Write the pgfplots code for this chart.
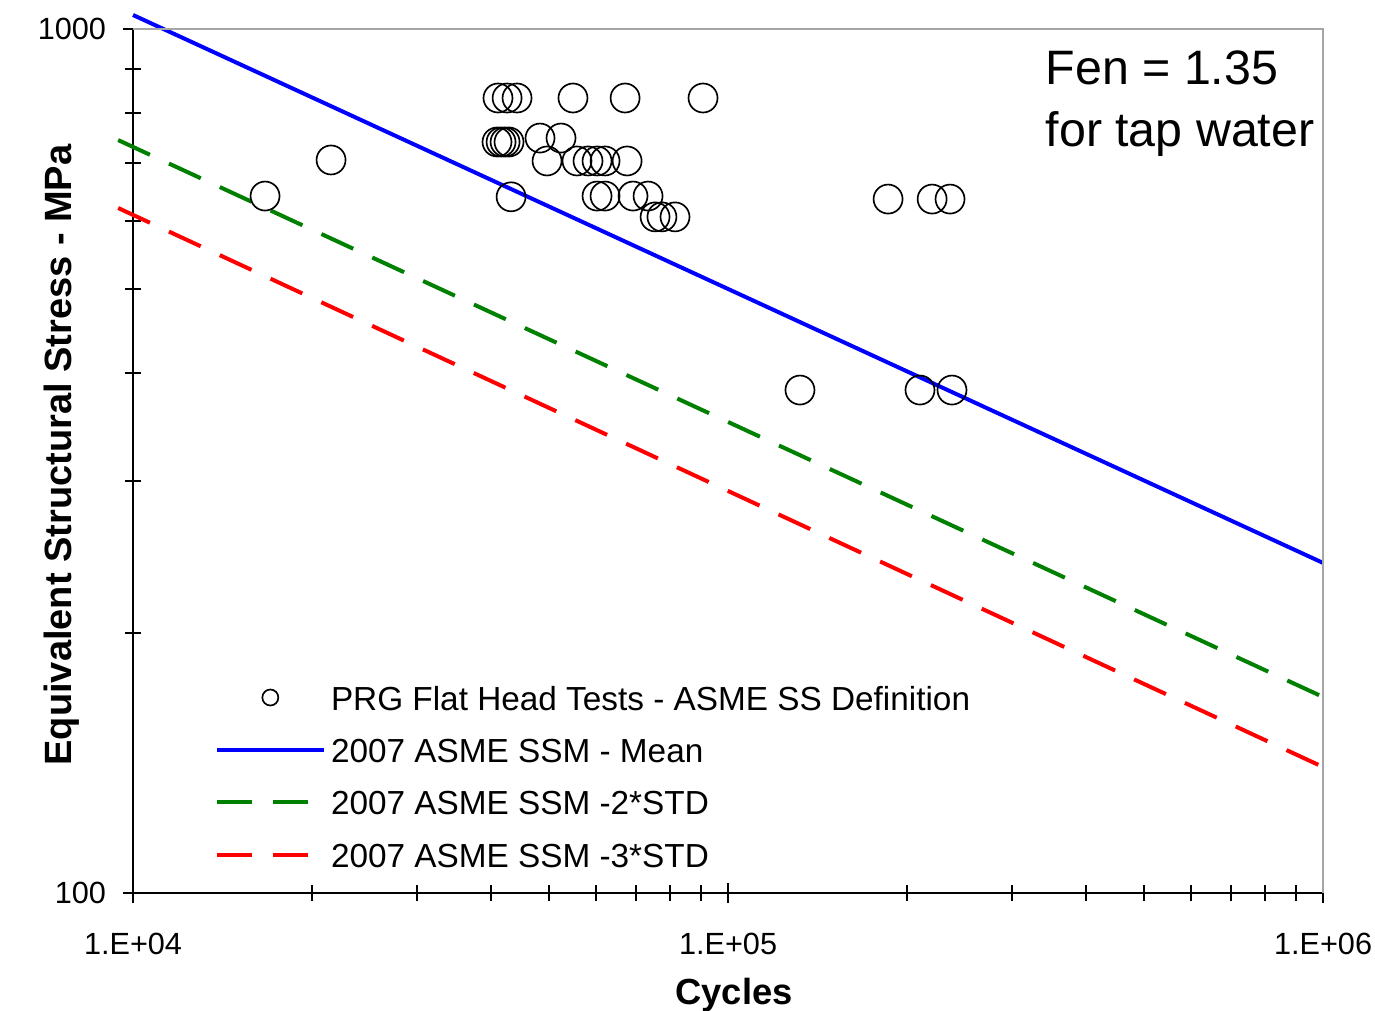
\documentclass[border=0pt]{standalone}
\usepackage{fontspec}
\setmainfont{Liberation Sans}
\usepackage{pgfplots}
\pgfplotsset{compat=1.18}
\definecolor{mblue}{RGB}{0,0,255}
\definecolor{mgreen}{RGB}{0,128,0}
\definecolor{mred}{RGB}{255,0,0}
\begin{document}
\begin{tikzpicture}
\useasboundingbox (-39.9pt,-35.1pt) rectangle (372.6pt,267.9pt);
\begin{axis}[
  at={(0pt,0pt)}, anchor=south west,
  scale only axis, width=357pt, height=259.2pt,
  xmode=log, ymode=log,
  xmin=1e4, xmax=1e6, ymin=100, ymax=1000,
  axis x line*=bottom, axis y line*=left,
  axis line style={-, black, line width=0.8pt},
  xtick={1e4,1e5,1e6}, xticklabels={1.E+04,1.E+05,1.E+06},
  ytick={100,1000}, yticklabels={100,1000},
  minor xtick={2e4,3e4,4e4,5e4,6e4,7e4,8e4,9e4,2e5,3e5,4e5,5e5,6e5,7e5,8e5,9e5},
  minor ytick={200,300,400,500,600,700,800,900},
  tick align=center, major tick length=6pt, minor tick length=4.8pt,
  tick style={black, line width=0.6pt},
  ticklabel style={font=\fontsize{9.2}{10}\selectfont},
  xticklabel style={yshift=-5.6pt},
  yticklabel style={xshift=-1.6pt},
  /pgf/number format/assume math mode=true,
  clip=false,
  xlabel={Cycles}, ylabel={Equivalent Structural Stress - MPa},
  xlabel style={at={(axis description cs:0.505,-0.118)}, anchor=center, font=\bfseries\fontsize{10.9}{12}\selectfont},
  ylabel style={at={(axis description cs:-0.0597,0.507)}, anchor=center, font=\bfseries\fontsize{11.4}{13}\selectfont},
  legend cell align=left,
  legend style={at={(axis description cs:0.0689,0.2407)}, anchor=north west, draw=none, fill=none,
    inner sep=0pt, outer sep=0pt, font=\fontsize{10}{12}\selectfont, row sep=8.2pt, column sep=1.6pt,
    nodes={inner sep=0pt, text height=7.5pt, text depth=0pt}},
  legend image code/.code={\draw[mark repeat=2,mark phase=2,#1] plot coordinates {(0pt,0pt) (16pt,0pt) (32pt,0pt)};},
]
\addlegendimage{only marks, mark=o, mark size=2.4pt, black, line width=0.5pt}
\addlegendentry{PRG Flat Head Tests - ASME SS Definition}
\addplot[only marks, mark=o, mark size=4.35pt, black, line width=0.5pt, forget plot] coordinates {
(16670,640.7) (21520,705.4)
(41060,832.0) (42530,832.0) (44200,832.0) (54880,832.0) (67140,832.0) (90780,832.0)
(40900,740.0) (41550,740.0) (42200,740.0) (42850,740.0)
(48310,747.9) (52400,747.9)
(49640,703.5) (55740,703.5) (58170,703.5) (60240,703.5) (62140,703.5) (67670,703.5)
(43190,639.4)
(60240,640.7) (62140,640.7) (69240,640.7) (73390,640.7)
(75410,606.1) (77440,606.1) (81450,606.1)
(185800,635.6) (220300,635.6) (236100,635.6)
(132100,382.1) (210200,382.1) (237900,382.1)
};
\addplot[mblue, line width=1.2pt] coordinates {(10000,1038) (1000000,241)};
\addlegendentry{2007 ASME SSM - Mean}
\addplot[mgreen, line width=1.2pt, dash pattern=on 10.5pt off 6.3pt] coordinates {(9440,743.9) (1000000,168.6)};
\addlegendentry{2007 ASME SSM -2*STD}
\addplot[mred, line width=1.2pt, dash pattern=on 10.5pt off 6.3pt] coordinates {(9440,620.6) (1000000,139.9)};
\addlegendentry{2007 ASME SSM -3*STD}
\draw[gray!70, line width=0.6pt] (rel axis cs:0,1) -- (rel axis cs:1,1) -- (rel axis cs:1,0);
\node[anchor=base west, inner sep=0pt, font=\fontsize{14.5}{17}\selectfont] at (axis description cs:0.7664,0.9352) {Fen = 1.35};
\node[anchor=base west, inner sep=0pt, font=\fontsize{14.5}{17}\selectfont] at (axis description cs:0.7664,0.8634) {for tap water};
\end{axis}
\end{tikzpicture}
\end{document}
